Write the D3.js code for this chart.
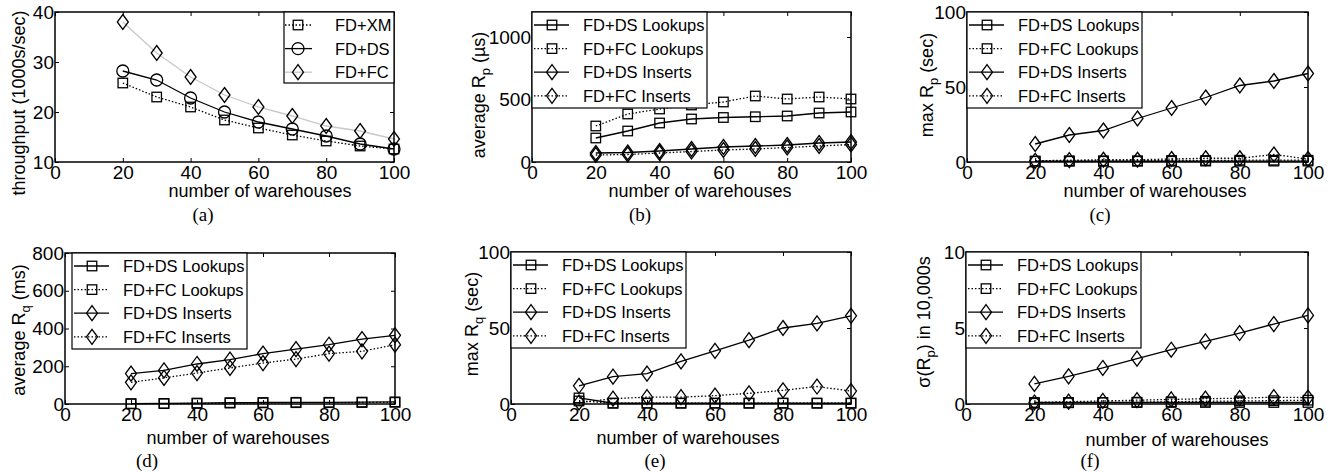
<!DOCTYPE html>
<html>
<head>
<meta charset="utf-8">
<script src="https://cdn.jsdelivr.net/npm/d3@7"></script>
<style>
  body { margin: 0; background: #fff; }
  svg { display: block; }
</style>
</head>
<body>
<svg id="chart" width="1331" height="472"></svg>
<script>
// x waarden: aantal warehouses
const warehouses = [20, 30, 40, 50, 60, 70, 80, 90, 100];
const xTicks = [0, 20, 40, 60, 80, 100];

// (a) throughput (1000s/sec)
const tputXM = [25.8, 23.0, 21.0, 18.4, 16.8, 15.4, 14.2, 13.2, 12.6];
const tputDS = [28.2, 26.4, 22.8, 20.0, 18.0, 16.6, 15.2, 13.6, 12.6];
const tputFC = [38.0, 31.8, 27.0, 23.4, 21.0, 19.2, 17.2, 16.2, 14.6];

// (b) average Rp (us)
const avgRpDSLookups = [192, 248, 312, 344, 356, 362, 368, 392, 400];
const avgRpFCLookups = [288, 384, 424, 456, 480, 528, 504, 520, 504];
const avgRpDSInserts = [72, 76, 88, 104, 120, 128, 136, 152, 160];
const avgRpFCInserts = [56, 60, 72, 84, 96, 104, 116, 128, 140];

// (c) max Rp (sec)
const maxRpDSLookups = [0.5, 0.5, 0.5, 0.5, 0.5, 0.6, 0.6, 0.6, 0.6];
const maxRpFCLookups = [0.6, 0.8, 0.8, 0.8, 1.0, 1.0, 1.2, 1.2, 1.2];
const maxRpDSInserts = [12, 18, 21, 29, 36, 43, 51, 54, 59];
const maxRpFCInserts = [0.8, 1.2, 1.5, 1.5, 2, 2.5, 2.5, 5, 2];

// (d) average Rq (ms)
const avgRqDSLookups = [2, 3, 5, 7, 8, 9, 9, 10, 11];
const avgRqFCLookups = [1, 2, 3, 5, 6, 7, 7, 8, 9];
const avgRqDSInserts = [161, 178, 212, 235, 267, 291, 314, 344, 364];
const avgRqFCInserts = [115, 138, 164, 191, 217, 238, 267, 279, 314];

// (e) max Rq (sec)
const maxRqDSLookups = [4, 0.5, 0.5, 0.5, 0.5, 0.5, 0.5, 0.5, 0.5];
const maxRqFCLookups = [2, 0.6, 0.6, 0.6, 0.6, 0.6, 0.6, 0.6, 0.6];
const maxRqDSInserts = [12, 18, 20, 28, 35, 42, 50, 53, 58];
const maxRqFCInserts = [1, 3.5, 4.5, 4.5, 5.5, 7, 9, 11.5, 8.5];

// (f) sigma(Rp) in 10,000s
const sdRpDSLookups = [0.1, 0.1, 0.1, 0.1, 0.1, 0.1, 0.1, 0.1, 0.1];
const sdRpFCLookups = [0.05, 0.08, 0.1, 0.12, 0.15, 0.18, 0.2, 0.22, 0.25];
const sdRpDSInserts = [1.32, 1.82, 2.37, 2.98, 3.57, 4.12, 4.67, 5.26, 5.83];
const sdRpFCInserts = [0.1, 0.15, 0.2, 0.25, 0.3, 0.35, 0.38, 0.45, 0.42];

const legendNames4 = ["FD+DS Lookups", "FD+FC Lookups", "FD+DS Inserts", "FD+FC Inserts"];

const SANS = "'Liberation Sans', Arial, Helvetica, sans-serif";
const SERIF = "'Liberation Serif', 'Times New Roman', serif";

// vier series in dezelfde stijl voor panelen b t/m f
function fourSeries(a, b, c, d) {
	return [
		{ name: legendNames4[0], values: a, dotted: false, marker: "square", color: "#000" },
		{ name: legendNames4[1], values: b, dotted: true, marker: "square", color: "#000" },
		{ name: legendNames4[2], values: c, dotted: false, marker: "diamond", color: "#000" },
		{ name: legendNames4[3], values: d, dotted: true, marker: "diamond", color: "#000" }
	];
}

const legend4 = (x, y) => ({ x: x, y: y, w: 175, h: 96, lineA: 2, lineB: 37, mark: 20, text: 51 });

// Panelen
//-----------------------------------------------------------------------------//
const panels = [
	{
		left: 55, right: 394, top: 12, bottom: 162,
		yDomain: [10, 40], yTicks: [10, 20, 30, 40],
		ylabel: [["throughput (1000s/sec)"]], ylabelX: 25, ylabelY: 103,
		xlabelX: 260, xlabelY: 197, caption: "(a)", capX: 203, capY: 221,
		legend: { x: 284, y: 12, w: 110, h: 71, lineA: 1, lineB: 28, mark: 14, text: 51 },
		series: [
			{ name: "FD+XM", values: tputXM, dotted: true, marker: "square", color: "#000" },
			{ name: "FD+DS", values: tputDS, dotted: false, marker: "circle", color: "#000" },
			{ name: "FD+FC", values: tputFC, dotted: false, marker: "diamond", color: "#c8c8c8" }
		]
	},
	{
		left: 532, right: 851, top: 12, bottom: 162,
		yDomain: [0, 1200], yTicks: [0, 500, 1000],
		ylabel: [["average R"], ["p", "sub"], [" (\u00b5s)"]], ylabelX: 485, ylabelY: 95,
		xlabelX: 700, xlabelY: 197, caption: "(b)", capX: 640, capY: 221,
		legend: legend4(532, 12),
		series: fourSeries(avgRpDSLookups, avgRpFCLookups, avgRpDSInserts, avgRpFCInserts)
	},
	{
		left: 967, right: 1308, top: 12, bottom: 162,
		yDomain: [0, 100], yTicks: [0, 50, 100],
		ylabel: [["max R"], ["p", "sub"], [" (sec)"]], ylabelX: 933, ylabelY: 85,
		xlabelX: 1155, xlabelY: 197, caption: "(c)", capX: 1100, capY: 221,
		legend: legend4(967, 12),
		series: fourSeries(maxRpDSLookups, maxRpFCLookups, maxRpDSInserts, maxRpFCInserts)
	},
	{
		left: 65, right: 395, top: 253, bottom: 404,
		yDomain: [0, 800], yTicks: [0, 200, 400, 600, 800],
		ylabel: [["average R"], ["q", "sub"], [" (ms)"]], ylabelX: 25, ylabelY: 330,
		xlabelX: 238, xlabelY: 444, caption: "(d)", capX: 147, capY: 467,
		legend: legend4(72, 253),
		series: fourSeries(avgRqDSLookups, avgRqFCLookups, avgRqDSInserts, avgRqFCInserts)
	},
	{
		left: 511, right: 851, top: 252, bottom: 404,
		yDomain: [0, 100], yTicks: [0, 50, 100],
		ylabel: [["max R"], ["q", "sub"], [" (sec)"]], ylabelX: 478, ylabelY: 324,
		xlabelX: 688, xlabelY: 444, caption: "(e)", capX: 655, capY: 467,
		legend: legend4(511, 252),
		series: fourSeries(maxRqDSLookups, maxRqFCLookups, maxRqDSInserts, maxRqFCInserts)
	},
	{
		left: 966, right: 1308, top: 252, bottom: 404,
		yDomain: [0, 10], yTicks: [0, 5, 10],
		ylabel: [["\u03c3(R"], ["p", "sub"], [") in 10,000s"]], ylabelX: 930, ylabelY: 322,
		xlabelX: 1177, xlabelY: 446, caption: "(f)", capX: 1090, capY: 467,
		legend: legend4(966, 252),
		series: fourSeries(sdRpDSLookups, sdRpFCLookups, sdRpDSInserts, sdRpFCInserts)
	}
];

const svg = d3.select("#chart");

// Functie die een marker tekent
//-----------------------------------------------------------------------------//
function drawMarker(g, type, cx, cy) {
	if (type === "circle") {
		g.append("circle").attr("cx", cx).attr("cy", cy).attr("r", 6)
			.attr("fill", "none").attr("stroke", "#000").attr("stroke-width", 1.3);
	} else if (type === "square") {
		g.append("rect").attr("x", cx - 4.75).attr("y", cy - 4.75)
			.attr("width", 9.5).attr("height", 9.5)
			.attr("fill", "none").attr("stroke", "#000").attr("stroke-width", 1.3);
	} else {
		g.append("path")
			.attr("d", `M${cx},${cy - 7.5}L${cx + 5.5},${cy}L${cx},${cy + 7.5}L${cx - 5.5},${cy}Z`)
			.attr("fill", "none").attr("stroke", "#000").attr("stroke-width", 1.3);
	}
}

// Functie die een paneel tekent
//-----------------------------------------------------------------------------//
function drawPanel(p) {
	const g = svg.append("g");
	const x = d3.scaleLinear().domain([0, 100]).range([p.left, p.right]);
	const y = d3.scaleLinear().domain(p.yDomain).range([p.bottom, p.top]);

	const styleAxis = (s) => {
		s.select(".domain").remove();
		s.attr("font-size", 19).attr("font-family", SANS).attr("color", "#000");
		s.selectAll("line").attr("stroke-width", 1);
	};

	g.append("g").attr("transform", `translate(0,${p.bottom})`)
		.call(d3.axisBottom(x).tickValues(xTicks).tickSizeInner(-4).tickSizeOuter(0).tickPadding(4))
		.call(styleAxis);
	g.append("g").attr("transform", `translate(0,${p.top})`)
		.call(d3.axisTop(x).tickValues(xTicks).tickSizeInner(-4).tickSizeOuter(0).tickFormat(""))
		.call(styleAxis);
	g.append("g").attr("transform", `translate(${p.left},0)`)
		.call(d3.axisLeft(y).tickValues(p.yTicks).tickFormat(d3.format("d")).tickSizeInner(-4).tickSizeOuter(0).tickPadding(1))
		.call(styleAxis);
	g.append("g").attr("transform", `translate(${p.right},0)`)
		.call(d3.axisRight(y).tickValues(p.yTicks).tickSizeInner(-4).tickSizeOuter(0).tickFormat(""))
		.call(styleAxis);

	// lijnen en markers
	const line = d3.line().x((d, i) => x(warehouses[i])).y(d => y(d));
	p.series.forEach((s) => {
		g.append("path")
			.datum(s.values)
			.attr("d", line)
			.attr("fill", "none")
			.attr("stroke", s.color)
			.attr("stroke-width", 1.3)
			.attr("stroke-dasharray", s.dotted ? "1.5,2" : null);
	});
	p.series.forEach((s) => {
		const mg = g.append("g");
		s.values.forEach((v, i) => drawMarker(mg, s.marker, x(warehouses[i]), y(v)));
	});

	// box rond de plot
	g.append("rect")
		.attr("x", p.left).attr("y", p.top)
		.attr("width", p.right - p.left).attr("height", p.bottom - p.top)
		.attr("fill", "none").attr("stroke", "#000").attr("stroke-width", 1.5);

	// legenda
	const L = p.legend;
	const lg = g.append("g");
	lg.append("rect").attr("x", L.x).attr("y", L.y).attr("width", L.w).attr("height", L.h)
		.attr("fill", "#fff").attr("stroke", "#000").attr("stroke-width", 1.2);
	const rowH = 23.6;
	p.series.forEach((s, i) => {
		const cy = L.y + 13 + i * rowH;
		lg.append("line")
			.attr("x1", L.x + L.lineA).attr("x2", L.x + L.lineB)
			.attr("y1", cy).attr("y2", cy)
			.attr("stroke", s.color).attr("stroke-width", 1.3)
			.attr("stroke-dasharray", s.dotted ? "1.5,2" : null);
		drawMarker(lg, s.marker, L.x + L.mark, cy);
		lg.append("text")
			.attr("x", L.x + L.text).attr("y", cy).attr("dy", "0.36em")
			.attr("font-family", SANS).attr("font-size", 16.5)
			.text(s.name);
	});

	// as labels
	g.append("text")
		.attr("x", p.xlabelX).attr("y", p.xlabelY)
		.attr("text-anchor", "middle")
		.attr("font-family", SANS).attr("font-size", 18)
		.text("number of warehouses");

	const yl = g.append("text")
		.attr("transform", `translate(${p.ylabelX},${p.ylabelY}) rotate(-90)`)
		.attr("text-anchor", "middle")
		.attr("font-family", SANS).attr("font-size", 18);
	p.ylabel.forEach((part) => {
		const t = yl.append("tspan").text(part[0]);
		if (part[1] === "sub") {
			t.attr("font-size", 13).attr("dy", 5);
		} else if (yl.selectAll("tspan").size() > 1) {
			t.attr("dy", -5);
		}
	});

	// onderschrift
	g.append("text")
		.attr("x", p.capX).attr("y", p.capY)
		.attr("text-anchor", "middle")
		.attr("font-family", SERIF).attr("font-size", 19)
		.text(p.caption);
}

panels.forEach(drawPanel);
</script>
</body>
</html>
